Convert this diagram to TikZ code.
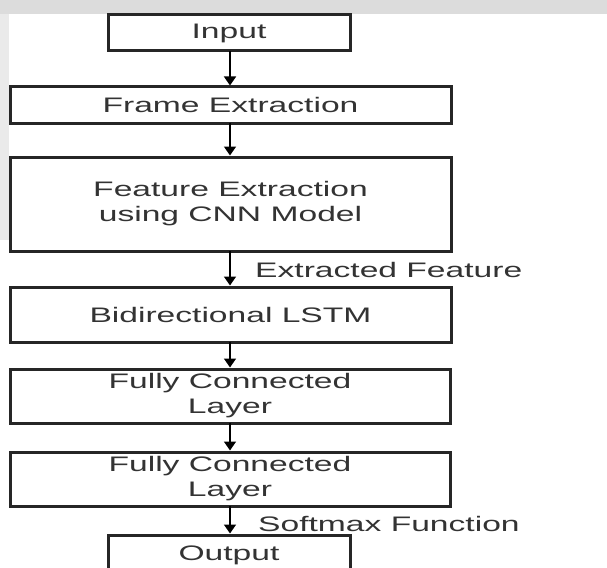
\documentclass[tikz,border=0pt]{standalone}
\usepackage{fontspec}
\setmainfont[FakeStretch=1.6]{Liberation Sans}
\usetikzlibrary{arrows.meta}
\definecolor{txt}{HTML}{333333}
\definecolor{brd}{HTML}{262626}
\definecolor{wm}{HTML}{DCDCDC}
\tikzset{
  box/.style={draw=brd, line width=3pt, rectangle, inner sep=0pt, align=center,
    text=txt, font=\fontsize{21}{25}\selectfont},
  arr/.style={draw=black, line width=1.5pt, -{Triangle[width=12pt,length=9pt]}},
  lbl/.style={anchor=west, inner sep=0pt, text=txt, font=\fontsize{21}{25}\selectfont}
}
\begin{document}
\begin{tikzpicture}[x=1pt,y=-1pt]
\useasboundingbox (0,0) rectangle (607,567);
\fill[white] (0,0) rectangle (607,567);
% faint watermark band at the top and left edge
\fill[wm] (0,0) rectangle (607,14);
\fill[wm!60] (0,14) rectangle (9,240);

\node[box, minimum width=242pt, minimum height=36pt] (in) at (229,33) {Input};
\node[box, minimum width=441pt, minimum height=36pt] (fr) at (230.5,105) {Frame Extraction};
\node[box, minimum width=441pt, minimum height=94pt] (fe) at (230.5,204) {Feature Extraction\\using CNN Model};
\node[box, minimum width=441pt, minimum height=55pt] (bl) at (230.5,314.5) {Bidirectional LSTM};
\node[box, minimum width=440pt, minimum height=54pt] (fc1) at (230,396) {Fully Connected\\Layer};
\node[box, minimum width=440pt, minimum height=54pt] (fc2) at (230,479) {Fully Connected\\Layer};
\node[box, minimum width=242pt, minimum height=40pt] (out) at (229,555) {Output};

\coordinate (a1) at (230,51);
\draw[arr] (a1) -- (a1 |- fr.north);
\coordinate (a2) at (230,123);
\draw[arr] (a2) -- (a2 |- fe.north);
\coordinate (a3) at (230,251);
\draw[arr] (a3) -- (a3 |- bl.north);
\coordinate (a4) at (230,342);
\draw[arr] (a4) -- (a4 |- fc1.north);
\coordinate (a5) at (230,423);
\draw[arr] (a5) -- (a5 |- fc2.north);
\coordinate (a6) at (230,506);
\draw[arr] (a6) -- (a6 |- out.north);

\node[lbl] (ef) at (255,270) {Extracted Feature};
\node[lbl] (sf) at (258,524) {Softmax Function};
\end{tikzpicture}
\end{document}
